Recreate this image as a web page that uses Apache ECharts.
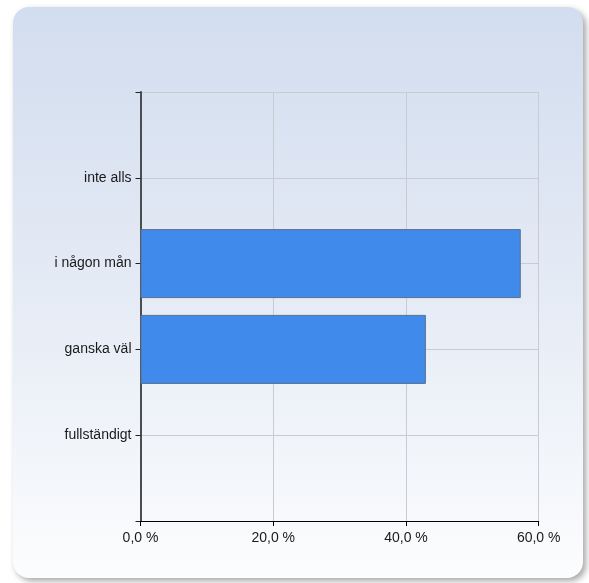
<!DOCTYPE html>
<html>
<head>
<meta charset="utf-8">
<script src="https://cdn.jsdelivr.net/npm/echarts@6/dist/echarts.min.js"></script>
<style>
html,body{margin:0;padding:0;background:#ffffff;}
#c{width:589px;height:583px;}
</style>
</head>
<body>
<div id="c"></div>
<script>
var categories = ['', 'inte alls', 'i någon mån', 'ganska väl', 'fullständigt', ''];
var values = [null, 0, 57.3, 43.0, 0, null];
var xTicks = [0, 20, 40, 60];

var chart = echarts.init(document.getElementById('c'), null, {renderer: 'canvas'});
var font = 'Arial, "Liberation Sans", sans-serif';
var barData = values.map(function (v) {
  return v === 0 ? {value: v, itemStyle: {borderWidth: 0, opacity: 0}} : v;
});
chart.setOption({
  animation: false,
  backgroundColor: '#ffffff',
  graphic: [{
    type: 'rect',
    z: -10,
    left: 13, top: 7,
    shape: {width: 570, height: 571, r: 16},
    style: {
      fill: new echarts.graphic.LinearGradient(0, 0, 0, 1, [
        {offset: 0, color: '#d2ddef'},
        {offset: 0.5, color: '#e5ebf5'},
        {offset: 1, color: '#fcfdfe'}
      ]),
      shadowBlur: 6,
      shadowOffsetX: 3,
      shadowOffsetY: 3,
      shadowColor: 'rgba(0,0,0,0.35)'
    }
  }],
  grid: {left: 140.5, right: 50.3, top: 92, bottom: 62, containLabel: false},
  xAxis: {
    type: 'value',
    min: xTicks[0], max: xTicks[xTicks.length - 1], interval: 20,
    axisLine: {show: true, lineStyle: {color: '#000000', width: 1}},
    axisTick: {show: true, length: 5, lineStyle: {color: '#000000'}},
    axisLabel: {
      margin: 10, color: '#1a1a1a', fontSize: 14, fontFamily: font,
      formatter: function (v) { return v.toFixed(1).replace('.', ',') + ' %'; }
    },
    splitLine: {show: true, lineStyle: {color: '#c8ccd2', width: 1}}
  },
  yAxis: {
    type: 'category',
    data: categories,
    inverse: true,
    boundaryGap: false,
    axisLine: {show: true, lineStyle: {color: '#4a4d52', width: 2}},
    axisTick: {show: true, length: 5, interval: 0, lineStyle: {color: '#222222'}},
    axisLabel: {margin: 9, color: '#1a1a1a', fontSize: 14, fontFamily: font, interval: 0},
    splitLine: {show: true, interval: 0, lineStyle: {color: '#c8ccd2', width: 1}}
  },
  series: [{
    type: 'bar',
    data: barData,
    barWidth: 69,
    itemStyle: {color: '#3f8aeb', borderColor: '#5b6f8c', borderWidth: 1}
  }]
});
</script>
</body>
</html>
